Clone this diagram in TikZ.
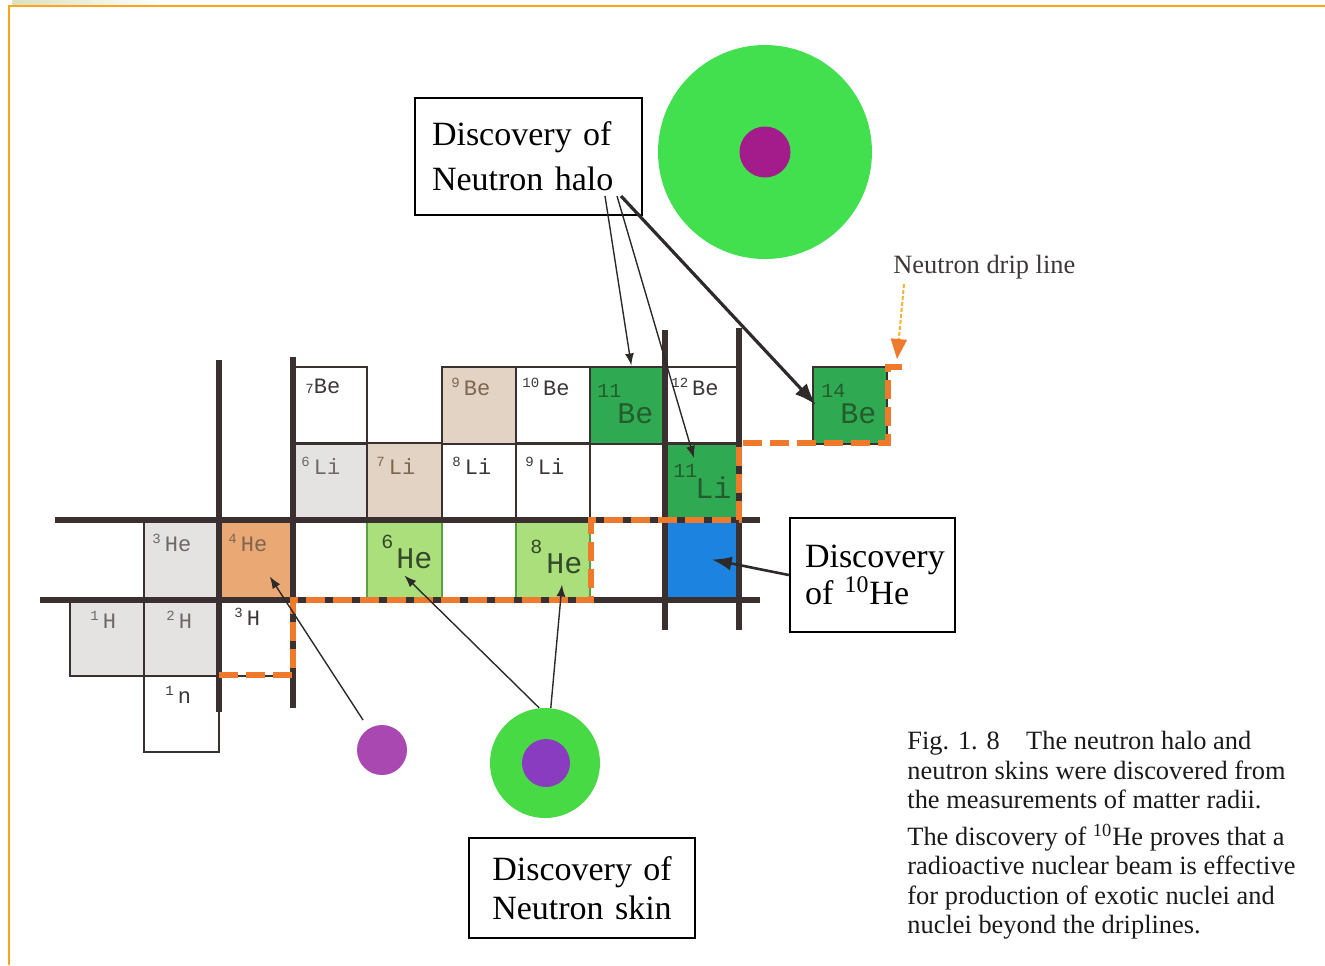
\documentclass[tikz,border=0pt]{standalone}
\usepackage{fontspec}
\setmainfont{Liberation Serif}
\setmonofont{Liberation Mono}
\usepackage{xcolor}
\usetikzlibrary{arrows.meta}

\definecolor{gridc}{HTML}{3A3030}
\definecolor{dripc}{HTML}{EF7A2E}
\definecolor{dripy}{HTML}{F2B43A}
\definecolor{framec}{HTML}{FFA21C}
\definecolor{blobc}{HTML}{DCE0BE}
\definecolor{greyc}{HTML}{E5E3E1}
\definecolor{tanc}{HTML}{E9A874}
\definecolor{beigec}{HTML}{E2D3C4}
\definecolor{lgreenc}{HTML}{AADF7C}
\definecolor{lgreenb}{HTML}{58A040}
\definecolor{dgreenc}{HTML}{2FAA52}
\definecolor{bluec}{HTML}{1C84E0}
\definecolor{halog}{HTML}{42E04E}
\definecolor{halocore}{HTML}{A41C8C}
\definecolor{sking}{HTML}{48DA44}
\definecolor{skincore}{HTML}{8A3CC0}
\definecolor{alphanuc}{HTML}{A848B0}
\definecolor{arrowc}{HTML}{2E2A2A}
\definecolor{txtgrey}{HTML}{6E6866}
\definecolor{txtdark}{HTML}{3C3838}
\definecolor{txttan}{HTML}{7E6650}
\definecolor{txtdgreen}{HTML}{245C2C}
\definecolor{txtlgreen}{HTML}{34482A}
\definecolor{capc}{HTML}{1A1A1A}

% mass number raised in front of the element
\newcommand{\nucl}[2]{\raisebox{4pt}{\fontsize{7}{7}\selectfont#1}\kern2pt#2}

\begin{document}
\begin{tikzpicture}[x=0.5pt,y=-0.5pt]
    \tikzstyle{cell}=[draw=gridc,line width=1pt,minimum width=37.15pt,minimum height=38.5pt,inner sep=0pt]
    \tikzstyle{gridline}=[draw=gridc,line width=2.6pt]
    \tikzstyle{drip}=[draw=dripc,line width=3.2pt,dash pattern=on 9.5pt off 4pt]
    \tikzstyle{lbl}=[anchor=base west,inner sep=0pt,font=\ttfamily\fontsize{11}{11}\selectfont]
    \tikzstyle{bignum}=[anchor=base west,inner sep=0pt,font=\ttfamily\fontsize{10}{10}\selectfont]
    \tikzstyle{bigel}=[anchor=base west,inner sep=0pt,font=\ttfamily\fontsize{15}{15}\selectfont]
    \tikzstyle{infobox}=[draw=black,line width=1.2pt,fill=white,inner sep=0pt,font=\fontsize{17}{22.5}\selectfont]
    \tikzstyle{pointer}=[draw=arrowc,line width=0.7pt,-{Latex[length=6pt,width=4.5pt]}]
    \tikzstyle{nucleus}=[circle,inner sep=0pt]
    \useasboundingbox (0,0) rectangle (1325,965);

    % page frame
    \shade[left color=blobc,right color=white] (12,0) rectangle (165,5);
    \draw[framec,line width=1.2pt] (9,965) -- (9,6) -- (1325,6);

    % cells, Z = 0..4
    \node[cell] (n1) at (181.5,713.5) {};
    \node[cell,fill=greyc] (H1) at (107.2,637.5) {};
    \node[cell,fill=greyc] (H2) at (181.5,637.5) {};
    \node[cell] (H3) at (255.8,637.5) {};
    \node[cell,fill=greyc] (He3) at (181.5,559.5) {};
    \node[cell,fill=tanc] (He4) at (255.8,559.5) {};
    \node[cell,fill=lgreenc,draw=lgreenb] (He6) at (404.4,559.5) {};
    \node[cell,fill=lgreenc,draw=lgreenb] (He8) at (553,559.5) {};
    \node[cell,fill=bluec] (He10) at (701.6,559.5) {};
    \node[cell,fill=greyc] (Li6) at (330.1,481.5) {};
    \node[cell,fill=beigec] (Li7) at (404.4,481.5) {};
    \node[cell] (Li8) at (478.7,481.5) {};
    \node[cell] (Li9) at (553,481.5) {};
    \node[cell] (Li10) at (627.3,481.5) {};
    \node[cell,fill=dgreenc] (Li11) at (701.6,481.5) {};
    \node[cell] (Be7) at (330.1,405) {};
    \node[cell,fill=beigec] (Be9) at (478.7,405) {};
    \node[cell] (Be10) at (553,405) {};
    \node[cell,fill=dgreenc] (Be11) at (627.3,405) {};
    \node[cell] (Be12) at (701.6,405) {};
    \node[cell,fill=dgreenc] (Be14) at (850.2,405) {};

    % magic number lines
    \draw[gridline] (55,520) -- (760,520);
    \draw[gridline] (40,600) -- (760,600);
    \draw[gridline] (219,360) -- (219,712);
    \draw[gridline] (293,357) -- (293,708);
    \draw[gridline] (665,330) -- (665,630);
    \draw[gridline] (739,328) -- (739,630);

    % neutron drip line
    \draw[drip] (219,675) -- (293,675) -- (293,600) -- (591,600) -- (591,520) -- (739,520) -- (739,443) -- (888,443) -- (888,367) -- (910,367);

    % cell labels
    \node[lbl,text=txtdark] (lBe7) at (305,393) {{\fontsize{7}{7}\selectfont 7}Be};
    \node[lbl,text=txttan] (lBe9) at (451,395) {\nucl{9}{Be}};
    \node[lbl,text=txtdark] (lBe10) at (522,395) {\nucl{10}{Be}};
    \node[lbl,text=txtdark] (lBe12) at (671,395) {\nucl{12}{Be}};
    \node[lbl,text=txtgrey] (lLi6) at (301,474) {\nucl{6}{Li}};
    \node[lbl,text=txttan] (lLi7) at (376,474) {\nucl{7}{Li}};
    \node[lbl,text=txtdark] (lLi8) at (452,474) {\nucl{8}{Li}};
    \node[lbl,text=txtdark] (lLi9) at (525,474) {\nucl{9}{Li}};
    \node[lbl,text=txtgrey] (lHe3) at (152,551) {\nucl{3}{He}};
    \node[lbl,text=txttan] (lHe4) at (228,551) {\nucl{4}{He}};
    \node[lbl,text=txtgrey] (lH1) at (90,628) {\nucl{1}{H}};
    \node[lbl,text=txtgrey] (lH2) at (166,628) {\nucl{2}{H}};
    \node[lbl,text=txtdark] (lH3) at (234,625) {\nucl{3}{H}};
    \node[lbl,text=txtdark] (ln1) at (165,703) {\nucl{1}{n}};
    \node[bignum,text=txtdgreen] (lBe11a) at (597,397) {11};
    \node[bigel,text=txtdgreen] (lBe11b) at (617,423) {Be};
    \node[bignum,text=txtdgreen] (lBe14a) at (821,397) {14};
    \node[bigel,text=txtdgreen] (lBe14b) at (840,423) {Be};
    \node[bignum,text=txtdgreen] (lLi11a) at (673,477) {11};
    \node[bigel,text=txtdgreen] (lLi11b) at (695,498) {Li};
    \node[bignum,text=txtlgreen] (lHe6a) at (381,548) {6};
    \node[bigel,text=txtlgreen] (lHe6b) at (396,568) {He};
    \node[bignum,text=txtlgreen] (lHe8a) at (530,553) {8};
    \node[bigel,text=txtlgreen] (lHe8b) at (546,573) {He};

    % nuclei
    \node[nucleus,fill=halog,minimum size=107pt] (halo) at (765,152) {};
    \node[nucleus,fill=halocore,minimum size=25.5pt] (halocoreA) at (765,152) {};
    \node[nucleus,fill=sking,minimum size=55pt] (skin) at (545,763) {};
    \node[nucleus,fill=skincore,minimum size=24pt] (skincoreA) at (546,763) {};
    \node[nucleus,fill=alphanuc,minimum size=25pt] (alpha) at (382,750) {};

    % text boxes
    \node[infobox,minimum width=113.5pt,minimum height=58.5pt,text width=96.5pt,align=left] (halobox) at (528.5,156.5) {Discovery of\\Neutron halo};
    \node[infobox,minimum width=82.5pt,minimum height=57pt,text width=67.5pt,align=left,font=\fontsize{17}{17.5}\selectfont] (tenbox) at (872.5,575) {Discovery\\of \textsuperscript{10}He};
    \node[infobox,minimum width=113pt,minimum height=50pt,text width=100pt,align=center,font=\fontsize{17}{19.5}\selectfont] (skinbox) at (582,888) {Discovery of\\Neutron skin};
    \node[anchor=base west,inner sep=0pt,text=txtdark,font=\fontsize{13.2}{13.2}\selectfont] (driplbl) at (893,273) {Neutron drip line};

    % pointers
    \coordinate (h1) at (605,196);
    \coordinate (h2) at (617,196);
    \coordinate (h3) at (621,196);
    \coordinate (li11tip) at (694,458);
    \coordinate (dripstart) at (904,284);
    \coordinate (dripend) at (897,359);
    \draw[pointer] (h1) -- ([xshift=2pt]Be11.north);
    \draw[pointer] (h2) -- (li11tip);
    \draw[pointer,line width=1.6pt,-{Latex[length=11pt,width=8pt]}] (h3) -- ([xshift=2pt]Be14.west);
    \draw[pointer,line width=1.3pt,-{Latex[length=10pt,width=7pt]}] (tenbox.west) -- ([xshift=5pt]He10.center);
    \draw[pointer] (skin.96) -- ([yshift=-8pt]He6.center);
    \draw[pointer] (skin.84) -- ([shift={(4.5pt,-12.5pt)}]He8.center);
    \draw[pointer,shorten <=5pt] (alpha.122) -- ([shift={(7pt,-8.5pt)}]He4.center);
    \draw[dripy,line width=1pt,dash pattern=on 2pt off 1pt,-{Triangle[length=10pt,width=8pt,color=dripc]}] (dripstart) -- (dripend);

    % caption
    \node[anchor=north west,inner sep=0pt,align=left,text=capc,font=\fontsize{13.2}{14.75}\selectfont] (caption) at (907,731) {Fig. 1. 8\quad The neutron halo and\\neutron skins were discovered from\\the measurements of matter radii.\\[3.5pt]The discovery of \textsuperscript{10}He proves that a\\radioactive nuclear beam is effective\\for production of exotic nuclei and\\nuclei beyond the driplines.};
\end{tikzpicture}
\end{document}
